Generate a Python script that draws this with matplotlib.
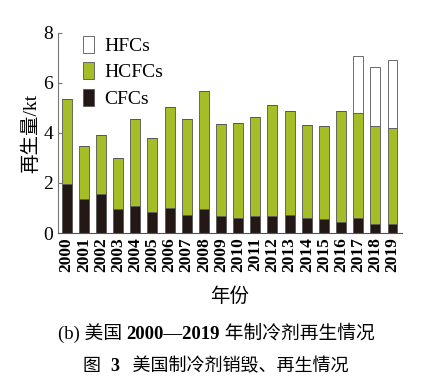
import matplotlib.pyplot as plt
import numpy as np
from matplotlib.offsetbox import TextArea, HPacker, AnchoredOffsetbox

plt.rcParams['font.family'] = ['Liberation Serif', 'Noto Sans CJK SC']

years = [str(y) for y in range(2000, 2020)]
cfcs = [1.95, 1.35, 1.55, 0.96, 1.09, 0.83, 1.00, 0.73, 0.95, 0.69,
        0.60, 0.69, 0.68, 0.71, 0.59, 0.56, 0.44, 0.59, 0.37, 0.35]
totals_hcfc = [5.36, 3.49, 3.91, 3.01, 4.56, 3.80, 5.04, 4.56, 5.68, 4.35,
               4.39, 4.63, 5.12, 4.88, 4.31, 4.29, 4.88, 4.79, 4.28, 4.20]
hcfcs = [t - c for t, c in zip(totals_hcfc, cfcs)]
hfcs = [0] * 17 + [2.28, 2.35, 2.72]

green = '#a5bd26'
black = '#231815'
edge = '#555555'

fig = plt.figure(figsize=(4.24, 3.82), dpi=100)
ax = fig.add_axes([0.137, 0.39, 0.811, 0.524])

x = np.arange(len(years))
w = 0.58
ax.bar(x, cfcs, w, color=black, edgecolor=edge, linewidth=0.6, label='CFCs')
ax.bar(x, hcfcs, w, bottom=cfcs, color=green, edgecolor=edge, linewidth=0.6, label='HCFCs')
ax.bar(x, hfcs, w, bottom=totals_hcfc, color='white', edgecolor=edge, linewidth=0.6, label='HFCs')

ax.set_xlim(-0.5, 19.55)
ax.set_ylim(0, 8)
ax.set_yticks([0, 2, 4, 6, 8])
ax.set_xticks(x)
ax.set_xticklabels(years, rotation=90, fontsize=12.5, fontweight='bold')
ax.tick_params(axis='y', direction='in', length=3, labelsize=14, color='#777777')
ax.tick_params(axis='x', length=0, pad=3)
for s in ['top', 'right']:
    ax.spines[s].set_visible(False)
ax.spines['left'].set_color('#777777')
ax.spines['bottom'].set_color('#555555')

ax.set_ylabel('再生量/kt', fontsize=14, labelpad=2)
ax.set_xlabel('年份', fontsize=14, labelpad=11)

handles, labels = ax.get_legend_handles_labels()
ax.legend(handles[::-1], labels[::-1], loc='upper left', bbox_to_anchor=(0.073, 0.985),
          frameon=False, fontsize=14, handlelength=0.55, handleheight=0.95,
          handletextpad=0.55, labelspacing=0.38, borderpad=0, borderaxespad=0)


def caption(parts, y, size):
    boxes = [TextArea(t, textprops=dict(fontsize=size, fontweight=wt)) for t, wt in parts]
    pack = HPacker(children=boxes, align='baseline', pad=0, sep=0)
    box = AnchoredOffsetbox(loc='center', child=pack, frameon=False, pad=0, borderpad=0,
                            bbox_to_anchor=(0.51, y), bbox_transform=fig.transFigure)
    fig.add_artist(box)


caption([('(b) 美国 ', 'normal'), ('2000—2019', 'bold'), (' 年制冷剂再生情况', 'normal')], 0.128, 13.5)
caption([('图  ', 'normal'), ('3', 'bold'), ('   美国制冷剂销毁、再生情况', 'normal')], 0.040, 13)

fig.savefig('out.png', dpi=100)
